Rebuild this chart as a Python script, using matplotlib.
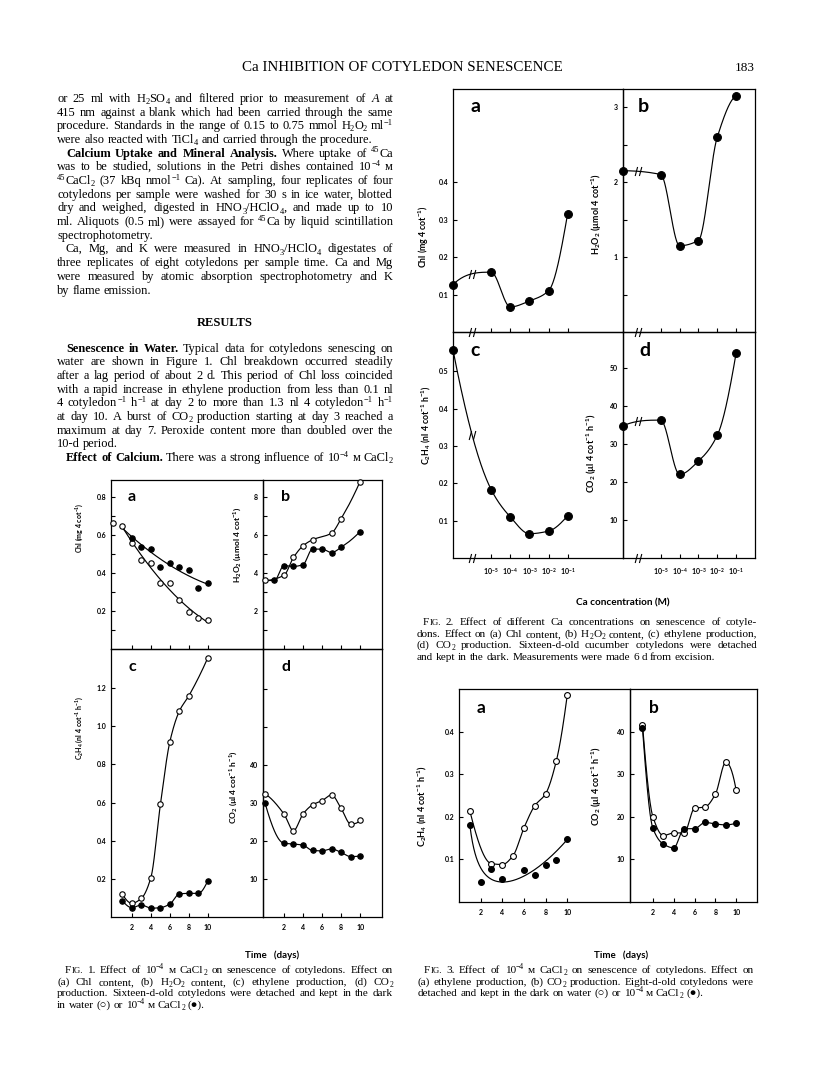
import re
import numpy as np
import matplotlib
matplotlib.use("Agg")
import matplotlib.pyplot as plt
from matplotlib.path import Path

W, H, DPI = 816, 1073, 100

plt.rcParams.update({
    'font.family': ['Lato', 'DejaVu Sans'],
    'font.weight': 'bold',
    'mathtext.fontset': 'custom',
    'mathtext.rm': 'Liberation Serif',
    'mathtext.it': 'Liberation Serif:italic',
    'mathtext.bf': 'Liberation Serif:bold',
    'mathtext.default': 'regular',
    'axes.linewidth': 0.9,
})

# ------------------------------------------------------------------ data
# Fig. 2 : Ca concentration series (log10 M); separate value = water control
fig2_logc = [-5, -4, -3, -2, -1]
fig2_tick_labels = ['10$^{-5}$', '10$^{-4}$', '10$^{-3}$', '10$^{-2}$', '10$^{-1}$']
fig2a_chl_water, fig2a_chl = 0.127, [0.160, 0.067, 0.083, 0.110, 0.316]
fig2b_h2o2_water, fig2b_h2o2 = 2.15, [2.10, 1.15, 1.22, 2.60, 3.15]
fig2c_c2h4_water, fig2c_c2h4 = 0.557, [0.183, 0.110, 0.065, 0.072, 0.113]
fig2d_co2_water, fig2d_co2 = 34.8, [36.3, 22.0, 25.5, 32.3, 54.0]

# Fig. 1 : time course, water (open) vs 1e-4 M CaCl2 (filled)
fig1a_days_w = [0, 1, 2, 3, 4, 5, 6, 7, 8, 9, 10]
fig1a_chl_w = [0.661, 0.649, 0.560, 0.468, 0.454, 0.346, 0.346, 0.258, 0.193, 0.165, 0.153]
fig1a_days_ca = [2, 3, 4, 5, 6, 7, 8, 9, 10]
fig1a_chl_ca = [0.582, 0.539, 0.526, 0.433, 0.451, 0.433, 0.416, 0.323, 0.346]

fig1b_days_w = [0, 2, 3, 4, 5, 7, 8, 10]
fig1b_h2o2_w = [3.60, 3.87, 4.81, 5.42, 5.74, 6.09, 6.84, 8.80]
fig1b_days_ca = [1, 2, 3, 4, 5, 6, 7, 8, 10]
fig1b_h2o2_ca = [3.60, 4.38, 4.34, 4.43, 5.25, 5.25, 5.07, 5.34, 6.17]

fig1c_days_w = [1, 2, 3, 4, 5, 6, 7, 8, 10]
fig1c_c2h4_w = [0.120, 0.072, 0.098, 0.207, 0.590, 0.920, 1.080, 1.160, 1.360]
fig1c_days_ca = [1, 2, 3, 4, 5, 6, 7, 8, 9, 10]
fig1c_c2h4_ca = [0.086, 0.049, 0.063, 0.046, 0.049, 0.068, 0.121, 0.124, 0.124, 0.190]

fig1d_days = [0, 2, 3, 4, 5, 6, 7, 8, 9, 10]
fig1d_co2_w = [32.4, 27.1, 22.7, 27.1, 29.5, 30.6, 32.1, 28.6, 24.5, 25.4]
fig1d_co2_ca = [30.1, 19.4, 19.2, 18.9, 17.5, 17.4, 17.9, 17.0, 15.9, 16.1]

# Fig. 3 : eight-day-old cotyledons
fig3a_days_w = [1, 3, 4, 5, 6, 7, 8, 9, 10]
fig3a_c2h4_w = [0.214, 0.090, 0.088, 0.109, 0.174, 0.226, 0.254, 0.332, 0.485]
fig3a_days_ca = [1, 2, 3, 4, 6, 7, 8, 9, 10]
fig3a_c2h4_ca = [0.181, 0.047, 0.078, 0.055, 0.074, 0.064, 0.088, 0.099, 0.147]

fig3b_days = [1, 2, 3, 4, 5, 6, 7, 8, 9, 10]
fig3b_co2_w = [41.6, 20.0, 15.6, 16.2, 16.2, 22.0, 22.3, 25.3, 32.8, 26.2]
fig3b_co2_ca = [40.8, 17.3, 13.6, 12.7, 17.2, 17.2, 18.7, 18.3, 18.1, 18.5]

day_ticks = [2, 4, 6, 8, 10]

# ------------------------------------------------------------------ helpers
WATER_X = -7.0


def pchip(x, y, xs):
    x = np.asarray(x, float); y = np.asarray(y, float); xs = np.asarray(xs, float)
    h = np.diff(x); dl = np.diff(y) / h
    n = len(x)
    d = np.zeros(n)
    for k in range(1, n - 1):
        if dl[k - 1] * dl[k] > 0:
            w1 = 2 * h[k] + h[k - 1]; w2 = h[k] + 2 * h[k - 1]
            d[k] = (w1 + w2) / (w1 / dl[k - 1] + w2 / dl[k])

    def ends(h0, h1, d0, d1):
        s = ((2 * h0 + h1) * d0 - h0 * d1) / (h0 + h1)
        if np.sign(s) != np.sign(d0):
            s = 0.0
        elif np.sign(d0) != np.sign(d1) and abs(s) > abs(3 * d0):
            s = 3 * d0
        return s
    if n > 2:
        d[0] = ends(h[0], h[1], dl[0], dl[1])
        d[-1] = ends(h[-1], h[-2], dl[-1], dl[-2])
    else:
        d[:] = dl[0]
    idx = np.clip(np.searchsorted(x, xs) - 1, 0, n - 2)
    t = (xs - x[idx]) / h[idx]
    h00 = 2 * t**3 - 3 * t**2 + 1
    h10 = t**3 - 2 * t**2 + t
    h01 = -2 * t**3 + 3 * t**2
    h11 = t**3 - t**2
    return h00 * y[idx] + h10 * h[idx] * d[idx] + h01 * y[idx + 1] + h11 * h[idx] * d[idx + 1]


fig = plt.figure(figsize=(W / DPI, H / DPI), dpi=DPI)
fig.patch.set_facecolor('white')
renderer = fig.canvas.get_renderer()


def px_axes(x0, y0, x1, y1):
    ax = fig.add_axes([x0 / W, 1 - y1 / H, (x1 - x0) / W, (y1 - y0) / H])
    ax.set_facecolor('none')
    for s in ax.spines.values():
        s.set_linewidth(0.9)
    ax.tick_params(direction='in', length=3, width=0.8, labelsize=5, pad=3.5)
    return ax


def set_yt(ax, ticks, labelled):
    ax.set_yticks(ticks)
    ax.set_yticklabels([(('%g' % t) if t in labelled else '') for t in ticks])


def set_yt_fmt(ax, ticks, labelled, fmt):
    ax.set_yticks(ticks)
    ax.set_yticklabels([((fmt % t) if any(abs(t - l) < 1e-9 for l in labelled) else '') for t in ticks])


def pts(ax, x, y, filled, ms):
    ax.plot(x, y, 'o', ms=ms, mfc='black' if filled else 'white', mec='black',
            mew=0.8, zorder=4, clip_on=False, ls='none')


def curve(ax, xs, ys):
    ax.plot(xs, ys, color='black', lw=0.85, zorder=3, solid_capstyle='round')


slash_path = Path([(-2.2, -3), (-0.6, 3), (0.6, -3), (2.2, 3)],
                  [Path.MOVETO, Path.LINETO, Path.MOVETO, Path.LINETO])


def brk(ax, x, y, ms=6.5):
    ax.plot([x], [y], marker=slash_path, ms=ms, mec='black', mew=0.8, ls='none',
            clip_on=False, zorder=5)


def label(x, y, s, size, rot=90, **kw):
    fig.text(x / W, 1 - y / H, s, fontsize=size, rotation=rot, ha='center', va='center', **kw)


# ------------------------------------------------------------------ Fig. 2
def fig2_panel(box, xlim, ylim, water, vals, brk_x, letter, letter_xy):
    ax = px_axes(*box)
    ax.set_xlim(*xlim); ax.set_ylim(*ylim)
    xall = [WATER_X] + fig2_logc
    yall = [water] + vals
    xs = np.linspace(WATER_X, fig2_logc[-1], 300)
    ys = pchip(xall, yall, xs)
    curve(ax, xs, ys)
    pts(ax, xall, yall, True, 5.6)
    brk(ax, brk_x, float(pchip(xall, yall, [brk_x])[0]))
    brk(ax, brk_x, ylim[0])
    ax.set_xticks(fig2_logc)
    label(letter_xy[0], letter_xy[1], letter, 14, rot=0)
    return ax


a2 = fig2_panel((453, 89, 623, 332), (-7, 1.9), (0, 0.65), fig2a_chl_water, fig2a_chl, -6.0, 'a', (475, 106))
set_yt_fmt(a2, [0.1, 0.2, 0.3, 0.4], [0.1, 0.2, 0.3, 0.4], '%.1f')
a2.set_xticklabels([])
b2 = fig2_panel((623, 89, 755, 332), (-7, 0), (0, 3.24), fig2b_h2o2_water, fig2b_h2o2, -6.2, 'b', (643, 106))
set_yt(b2, [0.5, 1, 1.5, 2, 2.5, 3], [1, 2, 3])
b2.set_xticklabels([])
c2 = fig2_panel((453, 332, 623, 558), (-7, 1.9), (0, 0.605), fig2c_c2h4_water, fig2c_c2h4, -6.0, 'c', (475, 351))
set_yt_fmt(c2, [0.1, 0.2, 0.3, 0.4, 0.5], [0.1, 0.2, 0.3, 0.4, 0.5], '%.1f')
c2.set_xticklabels(fig2_tick_labels)
c2.tick_params(axis='x', pad=6)
d2 = fig2_panel((623, 332, 755, 558), (-7, 0), (0, 59.5), fig2d_co2_water, fig2d_co2, -6.2, 'd', (645, 351))
set_yt(d2, [10, 20, 30, 40, 50], [10, 20, 30, 40, 50])
d2.set_xticklabels(fig2_tick_labels)
d2.tick_params(axis='x', pad=6)

label(424, 237, 'Chl (mg 4 cot$^{-1}$)', 6.3)
label(597, 214, 'H$_2$O$_2$ (µmol 4 cot$^{-1}$)', 6.5)
label(426, 425, 'C$_2$H$_4$ (nl 4 cot$^{-1}$ h$^{-1}$)', 6.3)
label(592, 453, 'CO$_2$ (µl 4 cot$^{-1}$ h$^{-1}$)', 6.5)
label(623, 603, 'Ca concentration (M)', 7.2, rot=0)

# ------------------------------------------------------------------ Fig. 1
MS1 = 3.9
a1 = px_axes(111, 480, 263, 649)
a1.set_xlim(-0.2, 15.8); a1.set_ylim(0, 0.89)
xs = np.linspace(1, 10, 200)
pw = np.polyfit(fig1a_days_w[1:], fig1a_chl_w[1:], 2)
curve(a1, xs, np.polyval(pw, xs))
pc = np.polyfit([fig1a_days_w[1]] + fig1a_days_ca, [fig1a_chl_w[1]] + fig1a_chl_ca, 2)
curve(a1, xs, np.polyval(pc, xs))
pts(a1, fig1a_days_w, fig1a_chl_w, False, MS1)
pts(a1, fig1a_days_ca, fig1a_chl_ca, True, MS1)
set_yt_fmt(a1, [0.1, 0.2, 0.3, 0.4, 0.5, 0.6, 0.7, 0.8], [0.2, 0.4, 0.6, 0.8], '%.1f')

b1 = px_axes(263, 480, 382, 649)
b1.set_xlim(-0.2, 12.3); b1.set_ylim(0, 8.88)
xs = np.linspace(0, 10, 200)
curve(b1, xs, pchip(fig1b_days_w, fig1b_h2o2_w, xs))
xc = [fig1b_days_w[0]] + fig1b_days_ca
yc = [fig1b_h2o2_w[0]] + fig1b_h2o2_ca
curve(b1, xs, pchip(xc, yc, xs))
pts(b1, fig1b_days_w, fig1b_h2o2_w, False, MS1)
pts(b1, fig1b_days_ca, fig1b_h2o2_ca, True, MS1)
set_yt(b1, [1, 2, 3, 4, 5, 6, 7, 8], [2, 4, 6, 8])

c1 = px_axes(111, 649, 263, 917)
c1.set_xlim(-0.2, 15.8); c1.set_ylim(0, 1.405)
xs = np.linspace(1, 10, 300)
curve(c1, xs, pchip(fig1c_days_w, fig1c_c2h4_w, xs))
curve(c1, xs, pchip(fig1c_days_ca, fig1c_c2h4_ca, xs))
pts(c1, fig1c_days_w, fig1c_c2h4_w, False, MS1)
pts(c1, fig1c_days_ca, fig1c_c2h4_ca, True, MS1)
set_yt_fmt(c1, [0.2, 0.4, 0.6, 0.8, 1.0, 1.2], [0.2, 0.4, 0.6, 0.8, 1.0, 1.2], '%.1f')

d1 = px_axes(263, 649, 382, 917)
d1.set_xlim(-0.2, 12.3); d1.set_ylim(0, 70.5)
xs = np.linspace(0, 10, 300)
curve(d1, xs, pchip(fig1d_days, fig1d_co2_w, xs))
curve(d1, xs, pchip(fig1d_days, fig1d_co2_ca, xs))
pts(d1, fig1d_days, fig1d_co2_w, False, MS1)
pts(d1, fig1d_days, fig1d_co2_ca, True, MS1)
set_yt(d1, [10, 20, 30, 40, 50, 60], [10, 20, 30, 40])

for ax in (a1, b1, c1, d1):
    ax.set_xticks(day_ticks)
for ax in (a1, b1):
    ax.set_xticklabels([])
for ax in (c1, d1):
    ax.tick_params(axis='x', pad=5)

label(132, 497, 'a', 11.5, rot=0)
label(286, 497, 'b', 11.5, rot=0)
label(132, 667, 'c', 11.5, rot=0)
label(286, 667, 'd', 11.5, rot=0)
label(79, 528, 'Chl (mg 4 cot$^{-1}$)', 5.0)
label(79, 728, 'C$_2$H$_4$ (nl 4 cot$^{-1}$ h$^{-1}$)', 5.0)
label(237, 545, 'H$_2$O$_2$ (µmol 4 cot$^{-1}$)', 6.0)
label(233, 787, 'CO$_2$ (µl 4 cot$^{-1}$ h$^{-1}$)', 6.0)
label(272, 955, 'Time   (days)', 7.0, rot=0)

# ------------------------------------------------------------------ Fig. 3
MS3 = 4.2
a3 = px_axes(459, 689, 630, 902)
a3.set_xlim(0, 15.8); a3.set_ylim(0, 0.5)
xs = np.linspace(1, 10, 300)
curve(a3, xs, pchip(fig3a_days_w, fig3a_c2h4_w, xs))
xd = np.asarray(fig3a_days_ca, float)
A = np.vstack([np.ones_like(xd), 1 / xd, xd, xd**2]).T
wgt = np.where((xd == 1) | (xd == 10), 6.0, 1.0)
coef = np.linalg.lstsq(A * wgt[:, None], np.asarray(fig3a_c2h4_ca) * wgt, rcond=None)[0]
curve(a3, xs, coef[0] + coef[1] / xs + coef[2] * xs + coef[3] * xs**2)
pts(a3, fig3a_days_w, fig3a_c2h4_w, False, MS3)
pts(a3, fig3a_days_ca, fig3a_c2h4_ca, True, MS3)
set_yt_fmt(a3, [0.1, 0.2, 0.3, 0.4], [0.1, 0.2, 0.3, 0.4], '%.1f')

b3 = px_axes(630, 689, 757, 902)
b3.set_xlim(-0.2, 12); b3.set_ylim(0, 50)
curve(b3, xs, pchip(fig3b_days, fig3b_co2_w, xs))
curve(b3, xs, pchip(fig3b_days, fig3b_co2_ca, xs))
pts(b3, fig3b_days, fig3b_co2_w, False, MS3)
pts(b3, fig3b_days, fig3b_co2_ca, True, MS3)
set_yt(b3, [10, 20, 30, 40], [10, 20, 30, 40])
for ax in (a3, b3):
    ax.set_xticks(day_ticks)
    ax.tick_params(axis='x', pad=5)

label(481, 708, 'a', 12.5, rot=0)
label(654, 708, 'b', 12.5, rot=0)
label(422, 806, 'C$_2$H$_4$ (nl 4 cot$^{-1}$ h$^{-1}$)', 6.5)
label(597, 786, 'CO$_2$ (µl 4 cot$^{-1}$ h$^{-1}$)', 6.5)
label(621, 955, 'Time   (days)', 7.0, rot=0)

# ------------------------------------------------------------------ page text
SERIF = 'Liberation Serif'
SEG = re.compile(r'([_^]\{[^}]*\})')


def pieces(w):
    """split a word into (text, scale, weight, style, y-shift in em) pieces"""
    weight, style = 'normal', 'normal'
    if w.startswith('*'):
        weight, w = 'bold', w[1:]
    if w.startswith('~'):
        style, w = 'italic', w[1:]
    if w == 'FIG.':
        return [('F', 1.0, weight, style, 0.0), ('IG.', 0.78, weight, style, 0.0)]
    out = []
    for seg in SEG.split(w):
        if not seg:
            continue
        if seg.startswith('_{'):
            out.append((seg[2:-1], 0.68, weight, style, -0.17))
        elif seg.startswith('^{'):
            out.append((seg[2:-1], 0.68, weight, style, 0.36))
        else:
            out.append((seg, 1.0, weight, style, 0.0))
    return out


def put_line(text, x0, x1, y, size, justify=True, indent=0.0):
    words = text.split(' ')
    em = size * DPI / 72.0
    objs, widths = [], []
    for w in words:
        pcs, acc = [], 0.0
        for s, sc, wt, st, dy in pieces(w):
            yy = round(y - dy * em)
            t = fig.text(0, 1 - yy / H, s, fontsize=size * sc, fontweight=wt, fontstyle=st,
                         family=SERIF, va='baseline', ha='left')
            bb = t.get_window_extent(renderer)
            pcs.append((t, acc))
            acc += bb.width
        objs.append(pcs); widths.append(acc)
    start = x0 + indent
    n = len(words)
    if justify and n > 1:
        gap = (x1 - start - sum(widths)) / (n - 1)
    else:
        gap = size * 0.25 * DPI / 72
    x = start
    for pcs, wd in zip(objs, widths):
        for t, off in pcs:
            t.set_x((x + off) / W)
        x += wd + gap


fig.text(402 / W, 1 - 71 / H, 'Ca INHIBITION OF COTYLEDON SENESCENCE', fontsize=10.8,
         family=SERIF, fontweight='normal', ha='center', va='baseline')
fig.text(755 / W, 1 - 71 / H, '183', fontsize=9.5, family=SERIF, fontweight='normal',
         ha='right', va='baseline')

BODY = 8.9
CAP = 8.1
LX0, LX1 = 57, 393
body1 = [
    ("or 25 ml with H_{2}SO_{4} and filtered prior to measurement of ~A at", True, 0),
    ("415 nm against a blank which had been carried through the same", True, 0),
    ("procedure. Standards in the range of 0.15 to 0.75 mmol H_{2}O_{2} ml^{−1}", True, 0),
    ("were also reacted with TiCl_{4} and carried through the procedure.", False, 0),
    ("*Calcium *Uptake *and *Mineral *Analysis. Where uptake of ^{45}Ca", True, 9),
    ("was to be studied, solutions in the Petri dishes contained 10^{−4} м", True, 0),
    ("^{45}CaCl_{2} (37 kBq nmol^{−1} Ca). At sampling, four replicates of four", True, 0),
    ("cotyledons per sample were washed for 30 s in ice water, blotted", True, 0),
    ("dry and weighed, digested in HNO_{3}/HClO_{4}, and made up to 10", True, 0),
    ("ml. Aliquots (0.5 ml) were assayed for ^{45}Ca by liquid scintillation", True, 0),
    ("spectrophotometry.", False, 0),
    ("Ca, Mg, and K were measured in HNO_{3}/HClO_{4} digestates of", True, 9),
    ("three replicates of eight cotyledons per sample time. Ca and Mg", True, 0),
    ("were measured by atomic absorption spectrophotometry and K", True, 0),
    ("by flame emission.", False, 0),
]
for i, (s, j, ind) in enumerate(body1):
    put_line(s, LX0, LX1, 98.3 + 13.7 * i + 3.5, BODY, j, ind)

fig.text(225 / W, 1 - 326.5 / H, 'RESULTS', fontsize=9.0, family=SERIF, fontweight='bold',
         ha='center', va='baseline')

body2 = [
    ("*Senescence *in *Water. Typical data for cotyledons senescing on", True, 9),
    ("water are shown in Figure 1. Chl breakdown occurred steadily", True, 0),
    ("after a lag period of about 2 d. This period of Chl loss coincided", True, 0),
    ("with a rapid increase in ethylene production from less than 0.1 nl", True, 0),
    ("4 cotyledon^{−1} h^{−1} at day 2 to more than 1.3 nl 4 cotyledon^{−1} h^{−1}", True, 0),
    ("at day 10. A burst of CO_{2} production starting at day 3 reached a", True, 0),
    ("maximum at day 7. Peroxide content more than doubled over the", True, 0),
    ("10-d period.", False, 0),
    ("*Effect *of *Calcium. There was a strong influence of 10^{−4} м CaCl_{2}", True, 9),
]
for i, (s, j, ind) in enumerate(body2):
    put_line(s, LX0, LX1, 348 + 13.7 * i + 3.5, BODY, j, ind)

cap2 = [
    ("FIG. 2. Effect of different Ca concentrations on senescence of cotyle-", True, 6),
    ("dons. Effect on (a) Chl content, (b) H_{2}O_{2} content, (c) ethylene production,", True, 0),
    ("(d) CO_{2} production. Sixteen-d-old cucumber cotyledons were detached", True, 0),
    ("and kept in the dark. Measurements were made 6 d from excision.", False, 0),
]
for i, (s, j, ind) in enumerate(cap2):
    put_line(s, 417, 757, 622 + 11.6 * i + 3.3, CAP, j, ind)

cap1 = [
    ("FIG. 1. Effect of 10^{−4} м CaCl_{2} on senescence of cotyledons. Effect on", True, 8),
    ("(a) Chl content, (b) H_{2}O_{2} content, (c) ethylene production, (d) CO_{2}", True, 0),
    ("production. Sixteen-d-old cotyledons were detached and kept in the dark", True, 0),
    ("in water (○) or 10^{−4} м CaCl_{2} (●).", False, 0),
]
for i, (s, j, ind) in enumerate(cap1):
    put_line(s, LX0, LX1, 970 + 11.6 * i + 3.3, CAP, j, ind)

cap3 = [
    ("FIG. 3. Effect of 10^{−4} м CaCl_{2} on senescence of cotyledons. Effect on", True, 6),
    ("(a) ethylene production, (b) CO_{2} production. Eight-d-old cotyledons were", True, 0),
    ("detached and kept in the dark on water (○) or 10^{−4} м CaCl_{2} (●).", False, 0),
]
for i, (s, j, ind) in enumerate(cap3):
    put_line(s, 418, 754, 970 + 11.6 * i + 3.3, CAP, j, ind)

fig.savefig('out.png', dpi=DPI, facecolor='white')
